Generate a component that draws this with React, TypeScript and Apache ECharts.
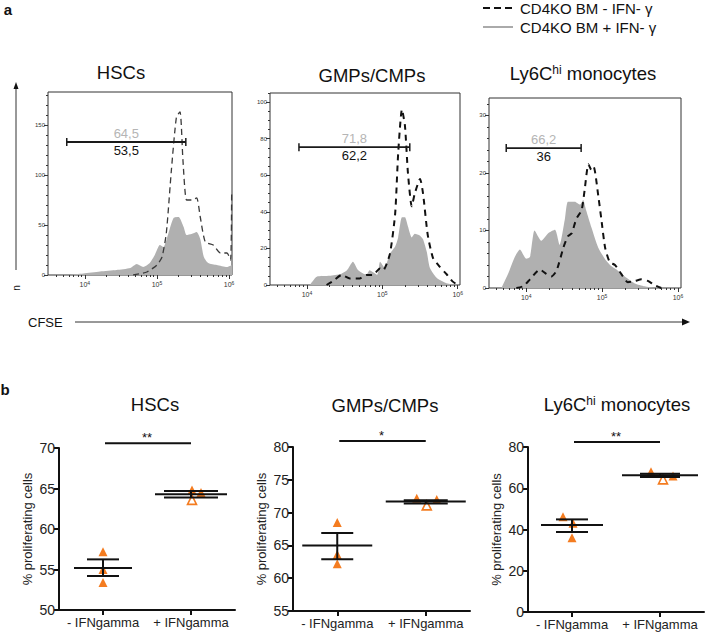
import React, { useEffect, useRef } from 'react';
import * as echarts from 'echarts';

const FONT = '"Liberation Sans", Arial, Helvetica, sans-serif';
const ORANGE = '#f47c20';

// ---------- Panel a: CFSE histograms (x = log10 CFSE, y = cell count) ----------
const hscGray: number[][] = [
  [3.79, 0], [3.98, 1.5], [4.21, 3.5], [4.44, 5], [4.63, 7], [4.72, 11], [4.81, 8], [4.9, 12],
  [4.97, 20], [5.04, 30], [5.09, 28], [5.16, 42], [5.23, 57], [5.3, 58], [5.37, 48], [5.41, 40],
  [5.48, 41], [5.55, 43], [5.6, 36], [5.65, 18], [5.71, 12], [5.83, 10], [5.97, 8], [6.04, 10],
];
const hscDashed: number[][] = [
  [4.67, 0], [4.86, 3], [5.0, 10], [5.07, 18], [5.13, 42], [5.2, 105], [5.27, 158], [5.32, 163],
  [5.36, 115], [5.41, 75], [5.48, 75], [5.55, 77], [5.6, 58], [5.67, 33], [5.78, 30], [5.88, 22],
  [5.97, 22], [6.02, 15], [6.035, 82],
];
const gmpGray: number[][] = [
  [4.04, 0], [4.13, 4.5], [4.3, 5], [4.45, 6], [4.53, 8], [4.61, 12.7], [4.68, 8], [4.79, 5.5],
  [4.83, 8], [4.93, 5.5], [4.97, 12.7], [5.03, 9.5], [5.1, 17], [5.17, 21], [5.21, 26], [5.26, 37],
  [5.3, 37], [5.34, 32], [5.39, 26], [5.43, 28], [5.5, 27], [5.54, 25], [5.59, 18], [5.63, 9.5],
  [5.72, 4], [5.85, 1], [5.99, 0],
];
const gmpDashed: number[][] = [
  [4.26, 0], [4.34, 2], [4.46, 5.5], [4.57, 3.6], [4.7, 3.6], [4.79, 5.5], [4.87, 5.5], [4.97, 9],
  [5.01, 8], [5.1, 17], [5.17, 39], [5.21, 72], [5.26, 96], [5.3, 87], [5.34, 61], [5.39, 43],
  [5.43, 50], [5.5, 58], [5.54, 50], [5.6, 28], [5.67, 15], [5.76, 10], [5.85, 6], [5.93, 2], [6.0, 0],
];
const lyGray: number[][] = [
  [3.675, 0], [3.763, 2.5], [3.85, 5.4], [3.917, 6.7], [4.0, 5.1], [4.05, 5.4], [4.11, 10], [4.2, 8.2],
  [4.29, 9.5], [4.38, 10.1], [4.44, 7.5], [4.51, 12], [4.55, 15], [4.64, 15], [4.71, 14.5], [4.75, 15.3],
  [4.79, 13.5], [4.86, 10.5], [4.95, 7], [5.04, 5], [5.12, 3.8], [5.21, 3], [5.3, 2], [5.43, 0.8],
  [5.56, 0.3], [5.69, 0],
];
const lyDashed: number[][] = [
  [3.87, 0], [3.96, 0.3], [4.05, 1.5], [4.18, 3.2], [4.26, 2.5], [4.33, 2.0], [4.4, 3], [4.49, 7],
  [4.55, 9], [4.6, 9.5], [4.66, 12], [4.73, 13.5], [4.77, 17], [4.82, 21.5], [4.86, 20.5], [4.89, 21],
  [4.95, 16], [4.99, 12], [5.04, 7], [5.1, 4.5], [5.17, 4], [5.25, 2.5], [5.34, 1], [5.43, 1.2],
  [5.52, 1.5], [5.61, 1.2], [5.69, 0.5], [5.78, 0],
];
// gates: [from (log10), to (log10), height]
const hscGate = [3.75, 5.4, 133];
const gmpGate = [3.894, 5.364, 75.4];
const lyGate = [3.737, 4.724, 24.3];
const gateGrayLabels = ['64,5', '71,8', '66,2'];
const gateBlackLabels = ['53,5', '62,2', '36'];

const histXRange = [[3.49, 6.04], [3.51, 6.03], [3.51, 6.04]];
const histXMajor = [4, 5, 6];
const histYMax = [183, 105, 33];
const histYMajor = [[0, 50, 100, 150], [0, 20, 40, 60, 80, 100], [0, 10, 20, 30]];
const histYMinorStep = [10, 5, 2];

// ---------- Panel b: % proliferating cells ----------
const categories = ['- IFNgamma', '+ IFNgamma'];
const hscMinus = [57.2, 55.0, 53.4];
const hscPlus = [64.8, 63.6, 64.5];
const gmpMinus = [68.5, 63.6, 62.2];
const gmpPlus = [72.2, 71.1, 72.0];
const lyMinus = [46.2, 43.0, 36.0];
const lyPlus = [68.0, 64.3, 65.9];
// [mean, semLow, semHigh] per group
const hscStats = [[55.2, 54.2, 56.25], [64.3, 63.9, 64.7]];
const gmpStats = [[65.0, 62.9, 66.9], [71.7, 71.4, 71.9]];
const lyStats = [[42.2, 38.8, 44.9], [66.3, 65.5, 67.0]];
const sigLabels = ['**', '*', '**'];
const sigHeights = [70.6, 80.9, 82.4];
const dotYRange = [[50, 70, 5], [55, 80, 5], [0, 80, 20]];

// styles (pixel sizes)
const histGrids = [
  { left: 48, top: 92, width: 184, height: 183 },
  { left: 270, top: 93, width: 190, height: 192 },
  { left: 489, top: 98, width: 192, height: 190 },
];
const dotGrids = [
  { left: 59, top: 448, width: 176, height: 162 },
  { left: 293, top: 447, width: 177, height: 164 },
  { left: 528, top: 447, width: 176, height: 165 },
];
const meanHalf = [[29, 36], [35, 40], [31, 38]];
const semHalf = [[16, 27], [16, 22], [16, 20]];
const jitter = [
  [[0, 0, 0], [1, 1, 10]],
  [[0, 0, 0], [-9, 1, 11]],
  [[-9, 1, 0], [-9, 3, 13]],
];
const openIndex = 1; // hollow triangle in + group
const dashStyles = [
  { color: '#3a3a3a', width: 1.3, type: [6, 4] },
  { color: '#111', width: 2, type: [6, 5] },
  { color: '#111', width: 2, type: [6, 5] },
];

function buildOption() {
  const grid: any[] = [];
  const xAxis: any[] = [];
  const yAxis: any[] = [];
  const series: any[] = [];
  const histData = [
    { gray: hscGray, dashed: hscDashed, gate: hscGate },
    { gray: gmpGray, dashed: gmpDashed, gate: gmpGate },
    { gray: lyGray, dashed: lyDashed, gate: lyGate },
  ];
  const tickColor = '#333';
  histData.forEach((p, i) => {
    grid.push({
      ...histGrids[i], show: true, borderColor: '#333', borderWidth: 1,
      backgroundColor: 'transparent', containLabel: false, outerBoundsMode: 'none',
    });
    const [xmin, xmax] = histXRange[i];
    const minorX: number[] = [];
    for (let n = 3; n <= 5; n++) {
      for (let k = 2; k <= 9; k++) {
        const v = Math.log10(k) + n;
        if (v > xmin && v < xmax) minorX.push(v);
      }
    }
    const baseX = {
      type: 'value', gridIndex: i, min: xmin, max: xmax, position: 'bottom',
      axisLine: { show: false }, splitLine: { show: false },
    };
    xAxis.push({
      ...baseX,
      axisTick: { show: true, customValues: histXMajor, length: 4, lineStyle: { color: tickColor, width: 1 } },
      axisLabel: {
        show: true, customValues: histXMajor, margin: 5, color: '#333',
        formatter: (v: number) => `{b|10}{s|${Math.round(v)}}`,
        rich: {
          b: { fontSize: 7, fontFamily: FONT, color: '#333' },
          s: { fontSize: 5, fontFamily: FONT, color: '#333', verticalAlign: 'top', padding: [0, 0, 3, 0] },
        },
      },
    });
    xAxis.push({
      ...baseX,
      axisTick: { show: true, customValues: minorX, length: 2, lineStyle: { color: tickColor, width: 1 } },
      axisLabel: { show: false },
    });
    const ymax = histYMax[i];
    const minorY: number[] = [];
    for (let v = 0; v <= ymax; v += histYMinorStep[i]) {
      if (!histYMajor[i].includes(v)) minorY.push(v);
    }
    const baseY = {
      type: 'value', gridIndex: i, min: 0, max: ymax, position: 'left',
      axisLine: { show: false }, splitLine: { show: false },
    };
    yAxis.push({
      ...baseY,
      axisTick: { show: true, customValues: histYMajor[i], length: 4, lineStyle: { color: tickColor } },
      axisLabel: { show: true, customValues: histYMajor[i], fontSize: 6, color: '#333', margin: 3, fontFamily: FONT },
    });
    yAxis.push({
      ...baseY,
      axisTick: { show: true, customValues: minorY, length: 2, lineStyle: { color: tickColor } },
      axisLabel: { show: false },
    });
    series.push({
      type: 'line', xAxisIndex: 2 * i, yAxisIndex: 2 * i, data: p.gray, symbol: 'none',
      smooth: 0.2, lineStyle: { width: 0 }, areaStyle: { color: '#b0b0b0', opacity: 1 },
      silent: true, z: 2,
    });
    series.push({
      type: 'line', xAxisIndex: 2 * i, yAxisIndex: 2 * i, data: p.dashed, symbol: 'none',
      smooth: 0.2, lineStyle: dashStyles[i], silent: true, z: 3,
    });
    series.push({
      type: 'custom', xAxisIndex: 2 * i, yAxisIndex: 2 * i, data: [p.gate], z: 4, silent: true,
      encode: { x: [0, 1], y: 2 },
      renderItem: (params: any, api: any) => {
        const a = api.coord([api.value(0), api.value(2)]);
        const b = api.coord([api.value(1), api.value(2)]);
        const mid = (a[0] + b[0]) / 2;
        const st = { stroke: '#1a1a1a', lineWidth: 1.8 };
        return {
          type: 'group',
          children: [
            { type: 'line', shape: { x1: a[0], y1: a[1], x2: b[0], y2: b[1] }, style: st },
            { type: 'line', shape: { x1: a[0], y1: a[1] - 4, x2: a[0], y2: a[1] + 4 }, style: { ...st, lineWidth: 1.5 } },
            { type: 'line', shape: { x1: b[0], y1: b[1] - 4, x2: b[0], y2: b[1] + 4 }, style: { ...st, lineWidth: 1.5 } },
            {
              type: 'text', x: mid, y: a[1] - 2,
              style: {
                text: gateGrayLabels[i], fill: '#b5b5b5', fontSize: 13, fontFamily: FONT,
                align: 'center', verticalAlign: 'bottom', textAlign: 'center', textVerticalAlign: 'bottom',
              },
            },
            {
              type: 'text', x: mid, y: a[1] + 2,
              style: {
                text: gateBlackLabels[i], fill: '#111', fontSize: 13, fontFamily: FONT,
                align: 'center', verticalAlign: 'top', textAlign: 'center', textVerticalAlign: 'top',
              },
            },
          ],
        };
      },
    });
  });

  const dotData = [
    { minus: hscMinus, plus: hscPlus, stats: hscStats },
    { minus: gmpMinus, plus: gmpPlus, stats: gmpStats },
    { minus: lyMinus, plus: lyPlus, stats: lyStats },
  ];
  dotData.forEach((p, j) => {
    const gi = 3 + j;
    const ai = 6 + j;
    grid.push({ ...dotGrids[j], containLabel: false, outerBoundsMode: 'none' });
    xAxis.push({
      type: 'category', gridIndex: gi, data: categories,
      axisLine: { show: true, onZero: false, lineStyle: { color: '#111', width: 2 } },
      axisTick: { show: true, alignWithLabel: true, interval: 0, length: 5, lineStyle: { color: '#111', width: 2 } },
      axisLabel: { interval: 0, hideOverlap: false, fontSize: 13, color: '#222', margin: 6, fontFamily: FONT },
      splitLine: { show: false },
    });
    const [mn, mx, iv] = dotYRange[j];
    yAxis.push({
      type: 'value', gridIndex: gi, min: mn, max: mx, interval: iv,
      axisLine: { show: true, lineStyle: { color: '#111', width: 2 } },
      axisTick: { show: true, length: 5, lineStyle: { color: '#111', width: 2 } },
      axisLabel: { fontSize: 14, color: '#222', margin: 4, fontFamily: FONT },
      splitLine: { show: false },
      name: '% proliferating cells', nameLocation: 'middle', nameGap: 25,
      nameTextStyle: { fontSize: 13, color: '#222', fontFamily: FONT },
    });
    const pts: any[] = [];
    [p.minus, p.plus].forEach((vals, g) => {
      vals.forEach((v, k) => {
        const open = g === 1 && k === openIndex;
        pts.push({
          value: [g, v],
          symbolOffset: [jitter[j][g][k], 0],
          itemStyle: open
            ? { color: '#fff', borderColor: ORANGE, borderWidth: 1.6, opacity: 1 }
            : { color: ORANGE, borderWidth: 0, opacity: 1 },
        });
      });
    });
    series.push({
      type: 'scatter', xAxisIndex: ai, yAxisIndex: ai, data: pts, symbol: 'triangle',
      symbolSize: 9, z: 2, silent: true, itemStyle: { opacity: 1 },
    });
    series.push({
      type: 'custom', xAxisIndex: ai, yAxisIndex: ai, z: 3, silent: true,
      data: p.stats.map((s, g) => [g, s[0], s[1], s[2]]),
      encode: { x: 0, y: [1, 2, 3] },
      renderItem: (params: any, api: any) => {
        const g = params.dataIndex;
        const c = api.value(0);
        const pm = api.coord([c, api.value(1)]);
        const pl = api.coord([c, api.value(2)]);
        const ph = api.coord([c, api.value(3)]);
        const mw = meanHalf[j][g];
        const sw = semHalf[j][g];
        const st = { stroke: '#111', lineWidth: 2 };
        return {
          type: 'group',
          children: [
            { type: 'line', shape: { x1: pm[0] - mw, y1: pm[1], x2: pm[0] + mw, y2: pm[1] }, style: st },
            { type: 'line', shape: { x1: pl[0] - sw, y1: pl[1], x2: pl[0] + sw, y2: pl[1] }, style: st },
            { type: 'line', shape: { x1: ph[0] - sw, y1: ph[1], x2: ph[0] + sw, y2: ph[1] }, style: st },
            { type: 'line', shape: { x1: pm[0], y1: pl[1], x2: pm[0], y2: ph[1] }, style: st },
          ],
        };
      },
    });
    series.push({
      type: 'custom', xAxisIndex: ai, yAxisIndex: ai, z: 3, silent: true, clip: false,
      data: [[0, sigHeights[j]]],
      renderItem: (params: any, api: any) => {
        const a = api.coord([0, api.value(1)]);
        const b = api.coord([1, api.value(1)]);
        return {
          type: 'group',
          children: [
            { type: 'line', shape: { x1: a[0] + 2, y1: a[1], x2: b[0], y2: b[1] }, style: { stroke: '#111', lineWidth: 2 } },
            {
              type: 'text', x: (a[0] + b[0]) / 2, y: a[1] - 6,
              style: {
                text: sigLabels[j], fill: '#111', fontSize: 13, fontFamily: FONT,
                align: 'center', verticalAlign: 'middle', textAlign: 'center', textVerticalAlign: 'middle',
              },
            },
          ],
        };
      },
    });
  });

  const txt = (x: number, y: number, text: string, size: number, extra: any = {}) => ({
    type: 'text', x, y, silent: true,
    style: {
      text, fontSize: size, fontFamily: FONT, fill: '#111',
      align: 'center', verticalAlign: 'middle', textAlign: 'center', textVerticalAlign: 'middle',
      ...extra,
    },
  });
  const supRich = { s: { fontSize: 12, fontFamily: FONT, fill: '#111', verticalAlign: 'top' } };
  const graphic: any[] = [
    txt(8, 9, 'a', 15, { fontWeight: 'bold' }),
    txt(5, 389, 'b', 15, { fontWeight: 'bold' }),
    txt(121, 72, 'HSCs', 18.5),
    txt(372, 75, 'GMPs/CMPs', 18.5),
    txt(583, 73, 'Ly6C{s|hi} monocytes', 18.5, { rich: supRich }),
    txt(155, 404, 'HSCs', 18.5),
    txt(385, 405, 'GMPs/CMPs', 18.5),
    txt(617, 404, 'Ly6C{s|hi} monocytes', 18.5, { rich: supRich }),
    // legend
    { type: 'line', shape: { x1: 483, y1: 8, x2: 513, y2: 8 }, style: { stroke: '#111', lineWidth: 2, lineDash: [7, 4] } },
    { type: 'line', shape: { x1: 483, y1: 27, x2: 513, y2: 27 }, style: { stroke: '#aaa', lineWidth: 2 } },
    txt(520, 8, 'CD4KO BM - IFN- γ', 15, { align: 'left', textAlign: 'left' }),
    txt(520, 27, 'CD4KO BM + IFN- γ', 15, { align: 'left', textAlign: 'left' }),
    // count axis arrow
    { type: 'line', shape: { x1: 16, y1: 270, x2: 16, y2: 88 }, style: { stroke: '#333', lineWidth: 1 } },
    { type: 'polygon', shape: { points: [[16, 82], [13.5, 89], [18.5, 89]] }, style: { fill: '#111' } },
    { ...txt(16, 288, 'n', 10), rotation: Math.PI / 2 },
    // CFSE arrow
    txt(28, 322, 'CFSE', 13, { align: 'left', textAlign: 'left' }),
    { type: 'line', shape: { x1: 75, y1: 322, x2: 684, y2: 322 }, style: { stroke: '#333', lineWidth: 1 } },
    { type: 'polygon', shape: { points: [[690, 322], [682, 318.5], [682, 325.5]] }, style: { fill: '#111' } },
  ];

  return {
    animation: false,
    backgroundColor: '#fff',
    textStyle: { fontFamily: FONT },
    grid, xAxis, yAxis, series, graphic,
  };
}

export default function App() {
  const ref = useRef<HTMLDivElement>(null);
  useEffect(() => {
    if (!ref.current) return;
    const chart = echarts.init(ref.current, null, { renderer: 'svg' });
    chart.setOption(buildOption() as any);
    return () => chart.dispose();
  }, []);
  return (
    <div
      ref={ref}
      style={{ position: 'absolute', left: 0, top: 0, width: 708, height: 632 }}
    />
  );
}
